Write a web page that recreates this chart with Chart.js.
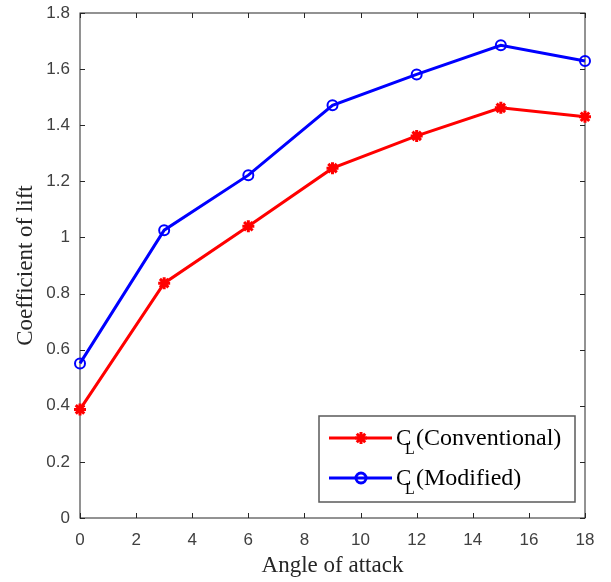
<!DOCTYPE html>
<html>
<head>
<meta charset="utf-8">
<script src="https://cdn.jsdelivr.net/npm/chart.js@4/dist/chart.umd.min.js"></script>
<style>
  html, body { margin: 0; padding: 0; background: #fff; }
  #wrap { width: 611px; height: 582px; }
</style>
</head>
<body>
<div id="wrap"><canvas id="liftChart" width="611" height="582"></canvas></div>
<script>
// Values
const angles = [0, 3, 6, 9, 12, 15, 18];
const clConventional = [0.387, 0.837, 1.04, 1.247, 1.362, 1.462, 1.43];
const clModified = [0.551, 1.026, 1.222, 1.471, 1.581, 1.685, 1.629];
const xTicks = [0, 2, 4, 6, 8, 10, 12, 14, 16, 18];
const yTicks = [0, 0.2, 0.4, 0.6, 0.8, 1, 1.2, 1.4, 1.6, 1.8];
const yTickLabels = ['0', '0.2', '0.4', '0.6', '0.8', '1', '1.2', '1.4', '1.6', '1.8'];

const axisColor = '#262626';
const tickFont = { family: 'Liberation Sans, Arial, sans-serif', size: 17 };
const serif = 'Liberation Serif, Times New Roman, serif';

function toPoints(xs, ys) {
    return xs.map((x, i) => ({ x: x, y: ys[i] }));
}

function drawMarker(ctx, ds, x, y) {
    if (Chart.helpers && Chart.helpers.drawPoint) {
        Chart.helpers.drawPoint(ctx, {
            pointStyle: ds.pointStyle,
            radius: ds.pointRadius,
            rotation: 0,
            borderWidth: ds.pointBorderWidth
        }, x, y);
    }
}

// MATLAB-like box with inward ticks on all four sides
const boxPlugin = {
    id: 'matlabBox',
    beforeDatasetsDraw(chart) {
        const { ctx, chartArea: a, scales } = chart;
        ctx.save();
        ctx.strokeStyle = axisColor;
        ctx.lineWidth = 1;
        ctx.strokeRect(a.left, a.top, a.right - a.left, a.bottom - a.top);
        const len = 5;
        ctx.beginPath();
        xTicks.forEach(v => {
            const px = Math.round(scales.x.getPixelForValue(v)) + 0.5;
            ctx.moveTo(px, a.bottom); ctx.lineTo(px, a.bottom - len);
            ctx.moveTo(px, a.top); ctx.lineTo(px, a.top + len);
        });
        yTicks.forEach(v => {
            const py = Math.round(scales.y.getPixelForValue(v)) + 0.5;
            ctx.moveTo(a.left, py); ctx.lineTo(a.left + len, py);
            ctx.moveTo(a.right, py); ctx.lineTo(a.right - len, py);
        });
        ctx.stroke();
        ctx.restore();
    },
    afterDatasetsDraw(chart) {
        // legend in the lower right corner
        const { ctx } = chart;
        const bx = 319, by = 416, bw = 256, bh = 86;
        ctx.save();
        ctx.fillStyle = '#fff';
        ctx.fillRect(bx, by, bw, bh);
        ctx.strokeStyle = '#5a5a5a';
        ctx.lineWidth = 1.5;
        ctx.strokeRect(bx, by, bw, bh);
        const rows = [
            { ds: chart.data.datasets[0], y: 438, text: '(Conventional)' },
            { ds: chart.data.datasets[1], y: 478, text: '(Modified)' }
        ];
        rows.forEach(r => {
            ctx.strokeStyle = r.ds.borderColor;
            ctx.lineWidth = r.ds.borderWidth;
            ctx.beginPath();
            ctx.moveTo(329, r.y);
            ctx.lineTo(392, r.y);
            ctx.stroke();
            ctx.strokeStyle = r.ds.pointBorderColor;
            ctx.fillStyle = r.ds.pointBackgroundColor;
            drawMarker(ctx, r.ds, 361, r.y);
            ctx.fillStyle = '#000';
            ctx.textBaseline = 'alphabetic';
            ctx.textAlign = 'left';
            ctx.font = '23px ' + serif;
            ctx.fillText('C', 396, r.y + 7);
            ctx.font = '16px ' + serif;
            ctx.fillText('L', 405, r.y + 16);
            ctx.font = '24px ' + serif;
            ctx.fillText(r.text, 416, r.y + 7);
        });
        ctx.restore();
    }
};

new Chart(document.getElementById('liftChart'), {
    type: 'line',
    data: {
        datasets: [{
            label: 'CL (Conventional)',
            data: toPoints(angles, clConventional),
            borderColor: '#ff0000',
            borderWidth: 3,
            pointStyle: 'star',
            pointRadius: 6,
            pointBorderWidth: 3,
            pointBorderColor: '#ff0000',
            pointBackgroundColor: '#ff0000',
            tension: 0,
            clip: false
        }, {
            label: 'CL (Modified)',
            data: toPoints(angles, clModified),
            borderColor: '#0000ff',
            borderWidth: 3,
            pointStyle: 'circle',
            pointRadius: 5,
            pointBorderWidth: 2,
            pointBorderColor: '#0000ff',
            pointBackgroundColor: 'rgba(0,0,0,0)',
            tension: 0,
            clip: false
        }]
    },
    options: {
        responsive: false,
        animation: false,
        devicePixelRatio: 1,
        layout: { padding: { top: 13, right: 26, left: 0, bottom: 0 } },
        plugins: {
            legend: { display: false },
            tooltip: { enabled: false }
        },
        scales: {
            x: {
                type: 'linear',
                min: 0,
                max: 18,
                afterBuildTicks: s => { s.ticks = xTicks.map(v => ({ value: v })); },
                afterFit: s => { s.height = 64; s.paddingLeft = 0; s.paddingRight = 0; },
                grid: { display: false, drawTicks: false },
                border: { display: false },
                ticks: { font: tickFont, color: '#404040', padding: 12, maxRotation: 0 },
                title: {
                    display: true,
                    text: 'Angle of attack',
                    font: { family: serif, size: 23 },
                    color: '#262626',
                    padding: { top: 0, bottom: 2 }
                }
            },
            y: {
                type: 'linear',
                min: 0,
                max: 1.8,
                afterBuildTicks: s => { s.ticks = yTicks.map(v => ({ value: v })); },
                afterFit: s => { s.width = 80; s.paddingTop = 0; s.paddingBottom = 0; },
                grid: { display: false, drawTicks: false },
                border: { display: false },
                ticks: {
                    font: tickFont,
                    color: '#404040',
                    padding: 10,
                    callback: (v) => yTickLabels[yTicks.findIndex(t => Math.abs(t - v) < 1e-6)]
                },
                title: {
                    display: true,
                    text: 'Coefficient of lift',
                    font: { family: serif, size: 23 },
                    color: '#262626',
                    padding: { top: 12, bottom: 0 }
                }
            }
        }
    },
    plugins: [boxPlugin]
});
</script>
</body>
</html>
